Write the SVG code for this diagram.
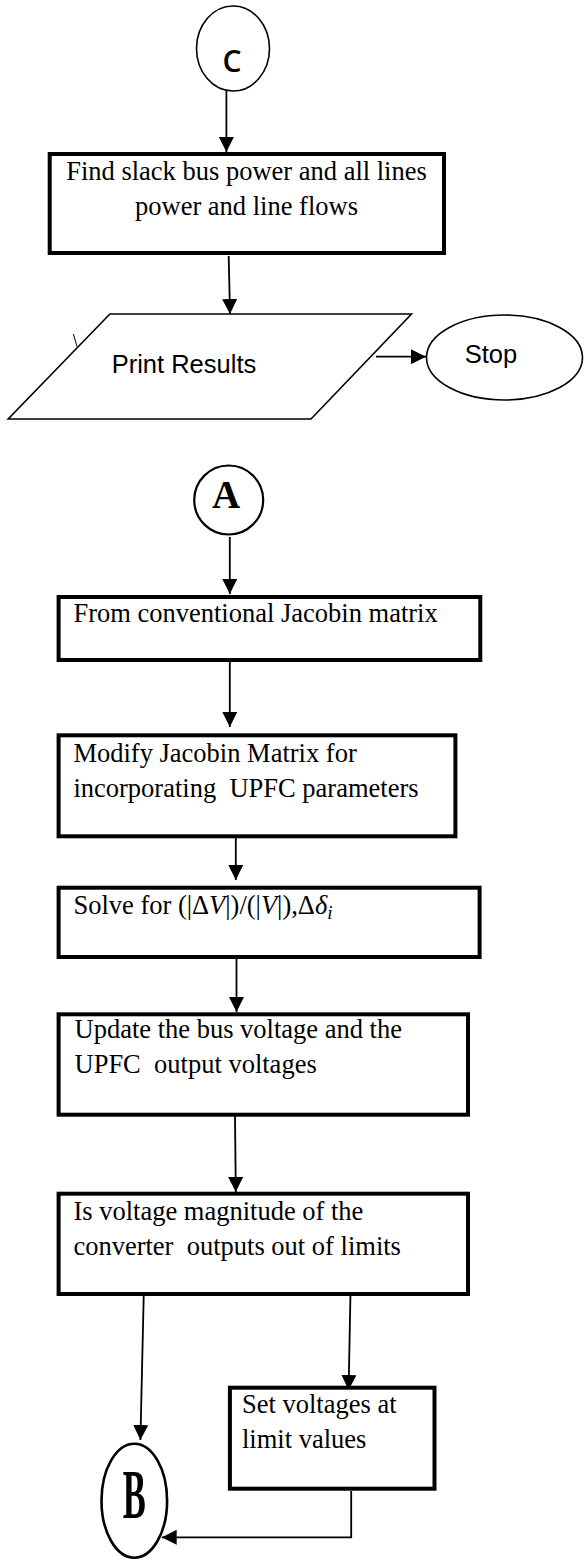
<svg xmlns="http://www.w3.org/2000/svg" width="584" height="1560" viewBox="0 0 584 1560">
  <style>
    .box { fill: #fff; stroke: #000; stroke-width: 4; }
    .thin { fill: #fff; stroke: #000; stroke-width: 1.6; }
    .conn { fill: none; stroke: #000; stroke-width: 1.8; marker-end: url(#arrow); }
    .serif { font-family: "Liberation Serif", "Times New Roman", serif; font-size: 26.5px; fill: #000; }
    .sans { font-family: "Liberation Sans", Arial, sans-serif; font-size: 25.5px; fill: #000; }
    .mid { text-anchor: middle; }
    .it { font-style: italic; }
  </style>
  <defs>
    <marker id="arrow" markerUnits="userSpaceOnUse" markerWidth="15" markerHeight="15" refX="15" refY="7.5" orient="auto">
      <path d="M0,0 L15,7.5 L0,15 z" fill="#000"/>
    </marker>
  </defs>

  <!-- connectors -->
  <g id="connectors">
    <line class="conn" x1="226.4" y1="91" x2="226.4" y2="152"/>
    <line class="conn" x1="228.7" y1="256" x2="230" y2="314"/>
    <line class="conn" x1="376" y1="356.7" x2="426" y2="356.7"/>
    <line class="conn" x1="229.8" y1="537" x2="229.8" y2="594"/>
    <line class="conn" x1="229.8" y1="662" x2="229.8" y2="727"/>
    <line class="conn" x1="235.8" y1="834" x2="235.8" y2="880"/>
    <line class="conn" x1="236.5" y1="958" x2="236.5" y2="1012"/>
    <line class="conn" x1="235" y1="1116" x2="235.8" y2="1192"/>
    <line class="conn" x1="143.8" y1="1292" x2="140.4" y2="1440"/>
    <line class="conn" x1="350.5" y1="1292" x2="348.6" y2="1390"/>
    <polyline class="conn" points="351.2,1491 351.2,1537.3 161.7,1537.3"/>
  </g>

  <!-- connector C -->
  <g id="node-c">
    <ellipse class="thin" cx="233" cy="48.5" rx="36.5" ry="42.5"/>
    <text class="mid" x="232" y="72" font-family="'Open Sans', 'Liberation Sans', sans-serif" font-size="30" font-weight="600">C</text>
  </g>

  <!-- slack bus power -->
  <g id="node-slack">
    <rect class="box" x="49.7" y="154" width="394.3" height="99"/>
    <text class="serif mid" x="246.5" y="180">Find slack bus power and all lines</text>
    <text class="serif mid" x="246.5" y="215">power and line flows</text>
  </g>

  <!-- print results -->
  <g id="node-print">
    <polygon class="thin" points="109.9,314 411.5,314 311,419 8.2,419"/>
    <line x1="73.4" y1="334" x2="77" y2="346.5" stroke="#000" stroke-width="1"/>
    <text class="sans" x="111.7" y="373">Print Results</text>
  </g>

  <!-- stop -->
  <g id="node-stop">
    <ellipse class="thin" cx="504.5" cy="357.5" rx="78" ry="42.5"/>
    <text class="sans mid" x="491" y="363">Stop</text>
  </g>

  <!-- connector A -->
  <g id="node-a">
    <circle cx="228.7" cy="500" r="34.5" fill="#fff" stroke="#000" stroke-width="2.2"/>
    <text x="226" y="508" font-family="Liberation Serif, 'Times New Roman', serif" font-size="39" font-weight="bold" text-anchor="middle">A</text>
  </g>

  <!-- conventional Jacobian -->
  <g id="node-jacobian">
    <rect class="box" x="58.6" y="597" width="421.7" height="63"/>
    <text class="serif" x="73.4" y="621.7">From conventional Jacobin matrix</text>
  </g>

  <!-- modified Jacobian -->
  <g id="node-modify">
    <rect class="box" x="58.6" y="735.3" width="396.8" height="101"/>
    <text class="serif" x="73.4" y="761.7">Modify Jacobin Matrix for</text>
    <text class="serif" x="73.4" y="796.7" xml:space="preserve">incorporating  UPFC parameters</text>
  </g>

  <!-- solve -->
  <g id="node-solve">
    <rect class="box" x="58.6" y="887.7" width="421" height="69.3"/>
    <text class="serif" x="73.4" y="914.3">Solve for (|Δ<tspan class="it">V</tspan>|)/(|<tspan class="it">V</tspan>|),Δ<tspan class="it">δ</tspan><tspan class="it" font-size="19" dy="5">i</tspan></text>
  </g>

  <!-- update voltages -->
  <g id="node-update">
    <rect class="box" x="58.6" y="1014.3" width="409.4" height="100.4"/>
    <text class="serif" x="74.5" y="1038.3">Update the bus voltage and the</text>
    <text class="serif" x="74.5" y="1073.3" xml:space="preserve">UPFC  output voltages</text>
  </g>

  <!-- limit check -->
  <g id="node-check">
    <rect class="box" x="58.6" y="1193.7" width="409.4" height="100.3"/>
    <text class="serif" x="73.4" y="1220">Is voltage magnitude of the</text>
    <text class="serif" x="73.4" y="1255" xml:space="preserve">converter  outputs out of limits</text>
  </g>

  <!-- set limits -->
  <g id="node-set">
    <rect class="box" x="229.9" y="1387.7" width="204.6" height="101"/>
    <text class="serif" x="242" y="1413.3">Set voltages at</text>
    <text class="serif" x="242" y="1448.3">limit values</text>
  </g>

  <!-- connector B -->
  <g id="node-b">
    <ellipse cx="134.3" cy="1500.7" rx="32.8" ry="57" fill="#fff" stroke="#000" stroke-width="2.6"/>
    <text transform="translate(134.2,1518.3) scale(0.5,1)" x="0" y="0" font-family="Liberation Serif, 'Times New Roman', serif" font-size="69" font-weight="bold" text-anchor="middle">B</text>
  </g>
</svg>
